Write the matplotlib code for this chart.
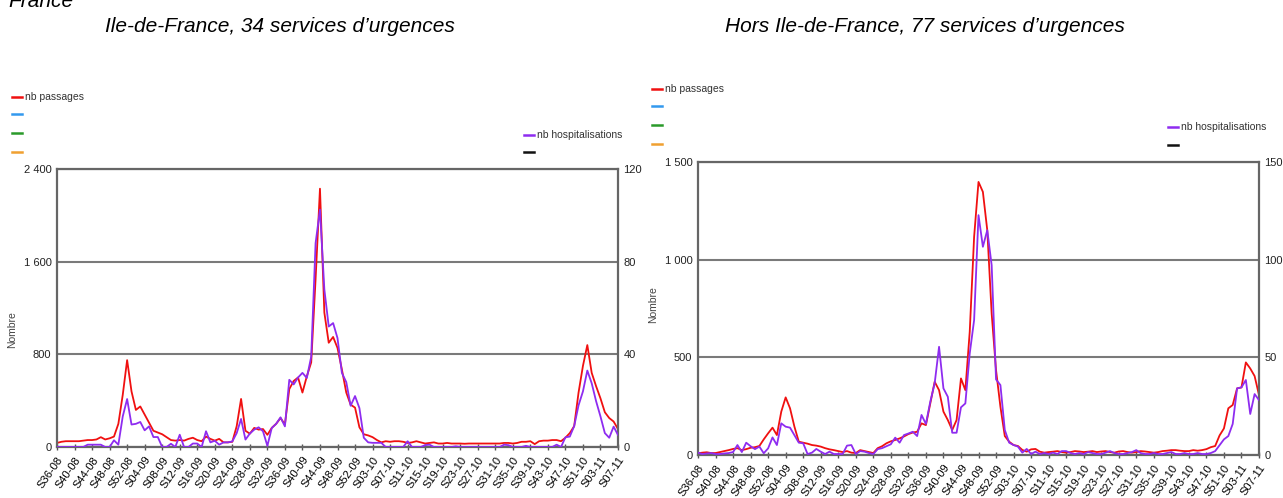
import numpy as np
import matplotlib
matplotlib.use("Agg")
import matplotlib.pyplot as plt
from matplotlib.lines import Line2D
from matplotlib import font_manager

# weekly data S36-08 .. S07-11 (129 weeks)
week_labels = ["S36-08", "S40-08", "S44-08", "S48-08", "S52-08", "S04-09", "S08-09",
               "S12-09", "S16-09", "S20-09", "S24-09", "S28-09", "S32-09", "S36-09",
               "S40-09", "S44-09", "S48-09", "S52-09", "S03-10", "S07-10", "S11-10",
               "S15-10", "S19-10", "S23-10", "S27-10", "S31-10", "S35-10", "S39-10",
               "S43-10", "S47-10", "S51-10", "S03-11", "S07-11"]

# Ile-de-France
idf_passages = [35, 45, 50, 50, 50, 50, 55, 60, 60, 65,
                85, 65, 75, 90, 200, 450, 750, 480, 320, 350,
                280, 210, 140, 125, 110, 85, 60, 55, 60, 55,
                70, 80, 60, 50, 90, 70, 55, 70, 40, 40,
                45, 180, 415, 140, 115, 165, 150, 155, 105, 165,
                200, 250, 195, 500, 570, 600, 470, 610, 730, 1450,
                2230, 1160, 900, 950, 855, 670, 470, 365, 340, 170,
                110, 100, 85, 60, 40, 50, 45, 50, 50, 45,
                35, 40, 50, 40, 30, 35, 40, 30, 30, 35,
                30, 30, 30, 28, 30, 30, 30, 30, 30, 30,
                30, 30, 35, 35, 30, 35, 45, 45, 50, 25,
                50, 55, 55, 60, 60, 50, 80, 120, 180, 470,
                700, 880, 640, 525, 420, 300, 250, 220, 155]
idf_hosp = [0, 0, 0, 0, 0, 0, 0, 1, 1, 1,
            1, 0, 0, 2.9, 1, 13.2, 20.7, 9.7, 10, 10.8,
            7.2, 8.9, 4.3, 4.3, 0, 0, 1.4, 0, 5.3, 0,
            0, 1.5, 1.5, 0, 6.8, 2, 2.7, 1, 2, 2,
            2.4, 6, 12.1, 3.2, 5.8, 7.5, 8.5, 6.8, 0.5, 8.2,
            10, 12.8, 8.9, 29, 27, 30, 32, 29.8, 39, 88,
            102.5, 68, 52, 53.5, 47, 32, 28, 17.8, 22, 16.8,
            4, 2, 1.8, 1.8, 1.8, 0, 0, 0, 0, 0,
            2.5, 0, 0, 0, 0.8, 1, 0, 0, 0, 0,
            0, 0.3, 0, 0, 0, 0, 0, 0, 0, 0,
            0, 0, 1, 0.8, 0, 0, 0, 0.5, 0, 0,
            0, 0, 0, 0, 1, 0, 4.2, 4.5, 9, 18,
            24, 33, 27.5, 19.8, 13.2, 6, 4, 8.8, 5.2]

# Hors Ile-de-France
hidf_passages = [9, 12, 14, 10, 10, 15, 20, 25, 31, 35,
                 25, 30, 37, 40, 46, 80, 111, 140, 102, 222,
                 295, 239, 145, 68, 63, 58, 51, 48, 43, 35,
                 29, 25, 20, 15, 20, 12, 10, 25, 20, 15,
                 10, 35, 45, 60, 70, 77, 85, 95, 107, 115,
                 119, 162, 153, 264, 375, 332, 222, 179, 128, 179,
                 392, 332, 631, 1117, 1398, 1347, 1151, 725, 435, 247,
                 97, 68, 51, 46, 26, 17, 29, 31, 17, 12,
                 15, 17, 20, 15, 12, 15, 20, 18, 15, 17,
                 20, 15, 18, 20, 15, 12, 18, 20, 15, 12,
                 15, 20, 18, 15, 12, 15, 20, 22, 25, 25,
                 22, 20, 20, 25, 22, 25, 30, 40, 46, 100,
                 136, 239, 256, 341, 346, 474, 443, 404, 307]
hidf_hosp = [1.2, 0.5, 0.8, 1, 0.5, 0.5, 0.8, 1, 1.5, 5.1,
             1.5, 6.3, 4.5, 3, 4.3, 0.9, 3.4, 9, 5.1, 16.2,
             14.5, 14, 10.2, 6.3, 6, 0.5, 1.2, 3.1, 1.7, 0.5,
             1.7, 0.5, 0.5, 0.5, 4.8, 5.1, 0.5, 2, 1.7, 1,
             0.5, 3, 3.5, 4.5, 5.5, 8.9, 6.3, 10.2, 11, 11.9,
             9.7, 20.5, 15.9, 27.3, 36.7, 55.4, 34.1, 29.8, 11.4, 11.4,
             24.4, 26.4, 52, 69.1, 122.8, 106.6, 115.1, 97.2, 38.7, 35.8,
             12.8, 6.3, 5.1, 4.3, 1.2, 3.1, 0.5, 1.7, 0.5, 1,
             0.5, 1.2, 0.5, 2, 2, 1, 0.5, 1, 0.5, 1.5,
             1, 0.5, 0.5, 1.2, 2, 1, 0.5, 0.5, 1, 1.5,
             2.5, 1, 0.5, 0.5, 1, 0.5, 0.5, 1, 1.5, 0.5,
             0.5, 1, 0.5, 0.5, 1, 0.5, 0.5, 1, 2, 5,
             8, 9.7, 15.9, 34.1, 34.6, 38.4, 21, 31.2, 28.1]

W, H = 1283, 498
RED = "#f01010"
PURPLE = "#8e2cf0"
GRID = "#7a7a7a"

names = {f.name for f in font_manager.fontManager.ttflist}
narrow = "Liberation Sans Narrow" if "Liberation Sans Narrow" in names else "Liberation Sans"
plt.rcParams["font.family"] = ["Liberation Sans", "DejaVu Sans"]


def fx(x):
    return x / W


def fy(y):
    return 1 - y / H


def panel(rect, passages, hosp, pmax, pticks, plabels, hmax, hticks, hlabels, label_xy):
    x0, y0, x1, y1 = rect
    ax = fig.add_axes([fx(x0), fy(y1), (x1 - x0) / W, (y1 - y0) / H])
    weeks = np.arange(len(passages))
    ax.plot(weeks, passages, color=RED, lw=1.3)
    ax.set_xlim(0, len(passages) - 1)
    ax.set_ylim(0, pmax)
    ax.set_yticks(pticks)
    ax.set_yticklabels(plabels, fontsize=8, family=narrow)
    ax.set_xticks(np.arange(0, len(passages), 4))
    ax.set_xticklabels(week_labels, rotation=55, ha="right", rotation_mode="anchor",
                       fontsize=8, family=narrow)
    ax.tick_params(axis="y", length=0, pad=4, colors="#222222")
    ax.tick_params(axis="x", direction="inout", length=5, width=1, color="#555555", pad=3)
    ax.yaxis.grid(True, color=GRID, lw=1.5)
    ax.set_axisbelow(True)
    for s in ax.spines.values():
        s.set_color("#666666")
        s.set_linewidth(1.6)
    # y label placed in pixels (right edge of rotated text)
    lx, ly = label_xy
    ax.set_ylabel("Nombre", fontsize=7.5, color="#444444", family=narrow)
    ax.yaxis.set_label_coords((lx - x0) / (x1 - x0), (y1 - ly) / (y1 - y0))

    axh = ax.twinx()
    axh.plot(weeks, hosp, color=PURPLE, lw=1.3)
    axh.set_ylim(0, hmax)
    axh.set_yticks(hticks)
    axh.set_yticklabels(hlabels, fontsize=8, family=narrow)
    axh.tick_params(axis="y", length=0, pad=4, colors="#222222")
    for s in axh.spines.values():
        s.set_visible(False)
    return ax


def legend_mark(x, y, color, label=None):
    fig.add_artist(Line2D([fx(x), fx(x + 10)], [fy(y), fy(y)], color=color, lw=1.8,
                          transform=fig.transFigure))
    if label:
        fig.text(fx(x + 13), fy(y), label, fontsize=7.5, family=narrow, color="#333333",
                 va="center", ha="left")


fig = plt.figure(figsize=(W / 100, H / 100), dpi=100)

fig.text(fx(8), fy(7), "France", fontsize=15, style="italic", va="baseline", ha="left")
fig.text(fx(280), fy(32), "Ile-de-France, 34 services d\u2019urgences", fontsize=15,
         style="italic", va="baseline", ha="center")
fig.text(fx(925), fy(32), "Hors Ile-de-France, 77 services d\u2019urgences", fontsize=15,
         style="italic", va="baseline", ha="center")

panel((57, 169, 618, 447), idf_passages, idf_hosp, 2400, [0, 800, 1600, 2400],
      ["0", "800", "1 600", "2 400"], 120, [0, 40, 80, 120], ["0", "40", "80", "120"],
      (17, 330))
panel((698, 162, 1259, 455), hidf_passages, hidf_hosp, 1500, [0, 500, 1000, 1500],
      ["0", "500", "1 000", "1 500"], 150, [0, 50, 100, 150], ["0", "50", "100", "150"],
      (658, 305))

# legends
legend_mark(12, 97, RED, "nb passages")
legend_mark(12, 114, "#3399ee")
legend_mark(12, 133, "#2a9a2a")
legend_mark(12, 152, "#f0a030")
legend_mark(524, 135, PURPLE, "nb hospitalisations")
legend_mark(524, 152, "#111111")

legend_mark(652, 89, RED, "nb passages")
legend_mark(652, 106, "#3399ee")
legend_mark(652, 125, "#2a9a2a")
legend_mark(652, 144, "#f0a030")
legend_mark(1168, 127, PURPLE, "nb hospitalisations")
legend_mark(1168, 145, "#111111")

fig.savefig("out.png", dpi=100)
